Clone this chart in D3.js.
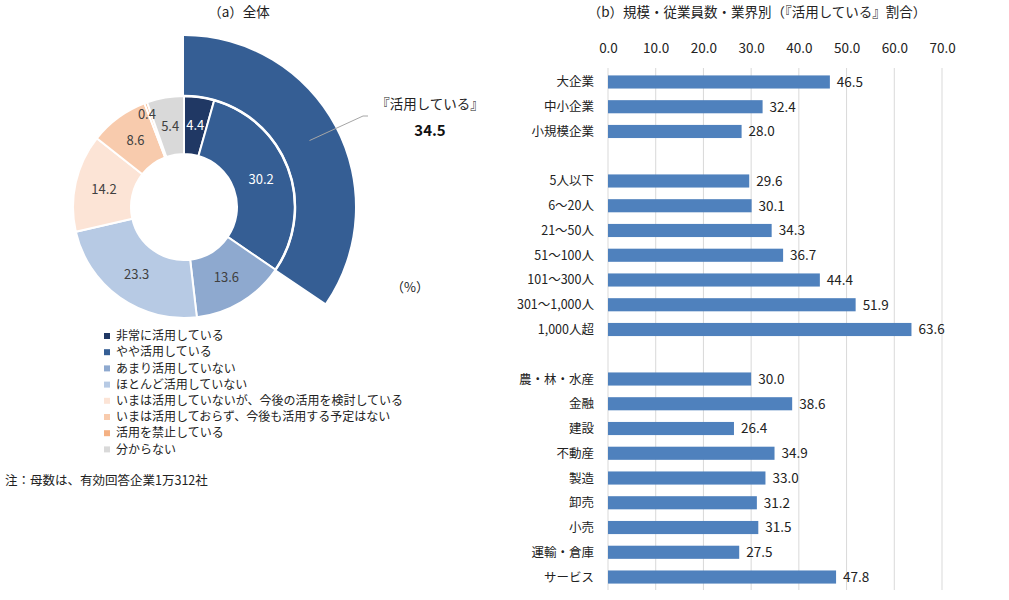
<!DOCTYPE html>
<html>
<head>
<meta charset="utf-8">
<script src="https://cdnjs.cloudflare.com/ajax/libs/d3/7.8.5/d3.min.js"></script>
<style>
  body { margin: 0; background: #fff; }
  text { font-family: "Noto Sans CJK JP", "Noto Sans", sans-serif; }
</style>
</head>
<body>
<div id="chart"></div>
<script>
// ---- data ----
var donutLabels = ["非常に活用している", "やや活用している", "あまり活用していない", "ほとんど活用していない",
                   "いまは活用していないが、今後の活用を検討している", "いまは活用しておらず、今後も活用する予定はない",
                   "活用を禁止している", "分からない"];
var donutValues = [4.4, 30.2, 13.6, 23.3, 14.2, 8.6, 0.4, 5.4];
var donutColors = ["#203864", "#355E94", "#8EA9CF", "#B7CAE4", "#FCE4D6", "#F8CBAD", "#F4B183", "#D9D9D9"];
var usingTotal = 34.5;

var sizeCats = ["大企業", "中小企業", "小規模企業"];
var sizeVals = [46.5, 32.4, 28.0];
var empCats = ["5人以下", "6～20人", "21～50人", "51～100人", "101～300人", "301～1,000人", "1,000人超"];
var empVals = [29.6, 30.1, 34.3, 36.7, 44.4, 51.9, 63.6];
var indCats = ["農・林・水産", "金融", "建設", "不動産", "製造", "卸売", "小売", "運輸・倉庫", "サービス"];
var indVals = [30.0, 38.6, 26.4, 34.9, 33.0, 31.2, 31.5, 27.5, 47.8];
var xTicks = [0, 10, 20, 30, 40, 50, 60, 70];

var w = 1009, h = 600;
var svg = d3.select("#chart").append("svg")
  .attr("width", w).attr("height", h);

// ---- (a) donut ----
var cx = 184, cy = 207;
var rIn = 53, rOut = 111, rBig = 171;

svg.append("text").attr("x", 239).attr("y", 17)
  .attr("text-anchor", "middle").attr("font-size", 13.5).attr("fill", "#222")
  .text("（a）全体");

var pie = d3.pie().sort(null).value(function(d) { return d; });
var arcs = pie(donutValues);
var arc = d3.arc().innerRadius(rIn).outerRadius(rOut);
var g = svg.append("g").attr("transform", "translate(" + cx + "," + cy + ")");

// big outer sector for 『活用している』
var bigEnd = usingTotal / 100 * 2 * Math.PI;
g.append("path")
  .attr("d", d3.arc()({ innerRadius: rOut, outerRadius: rBig, startAngle: 0, endAngle: bigEnd }))
  .attr("fill", donutColors[1]);

g.selectAll("path.slice")
  .data(arcs).enter().append("path")
  .attr("class", "slice")
  .attr("d", arc)
  .attr("fill", function(d, i) { return donutColors[i]; })
  .attr("stroke", "#fff").attr("stroke-width", 2);

// white arc between inner donut and big sector
g.append("path")
  .attr("d", d3.arc()({ innerRadius: rOut, outerRadius: rOut, startAngle: 0, endAngle: bigEnd }))
  .attr("stroke", "#fff").attr("stroke-width", 2.5).attr("fill", "none");

g.selectAll("text.val")
  .data(arcs).enter().append("text")
  .attr("class", "val")
  .attr("transform", function(d, i) {
    var r = i === 6 ? 99 : (rIn + rOut) / 2;
    var a = (d.startAngle + d.endAngle) / 2;
    var dx = i === 6 ? -3 : 0;
    return "translate(" + (Math.sin(a) * r + dx) + "," + (-Math.cos(a) * r) + ")";
  })
  .attr("text-anchor", "middle").attr("dy", "0.35em")
  .attr("font-size", 13)
  .attr("fill", function(d, i) { return i <= 1 ? "#fff" : "#404040"; })
  .text(function(d) { return d.data.toFixed(1); });

// leader line + label
var la = bigEnd * 0.5, lr = 142;
var lx = cx + Math.sin(la) * lr, ly = cy - Math.cos(la) * lr;
svg.append("polyline")
  .attr("points", lx + "," + ly + " 363,116 368,116")
  .attr("fill", "none").attr("stroke", "#A6A6A6").attr("stroke-width", 1);
svg.append("text").attr("x", 430).attr("y", 109)
  .attr("text-anchor", "middle").attr("font-size", 13.5).attr("fill", "#222")
  .text("『活用している』");
svg.append("text").attr("x", 430).attr("y", 136)
  .attr("text-anchor", "middle").attr("font-size", 15).attr("font-weight", "bold").attr("fill", "#111")
  .text(usingTotal.toFixed(1));

svg.append("text").attr("x", 410).attr("y", 292)
  .attr("text-anchor", "middle").attr("font-size", 13).attr("fill", "#222")
  .text("（%）");

// legend
var lg = svg.append("g").attr("transform", "translate(104,336)");
var legendItems = lg.selectAll("g").data(donutLabels).enter().append("g")
  .attr("transform", function(d, i) { return "translate(0," + (i * 16.2) + ")"; });
legendItems.append("rect").attr("x", 0).attr("y", -3).attr("width", 6).attr("height", 6)
  .attr("fill", function(d, i) { return donutColors[i]; });
legendItems.append("text").attr("x", 12).attr("dy", "0.35em")
  .attr("font-size", 12).attr("fill", "#222")
  .text(function(d) { return d; });

svg.append("text").attr("x", 5).attr("y", 485)
  .attr("font-size", 12.5).attr("fill", "#222")
  .text("注：母数は、有効回答企業1万312社");

// ---- (b) bar chart ----
svg.append("text").attr("x", 757).attr("y", 17)
  .attr("text-anchor", "middle").attr("font-size", 13.5).attr("fill", "#222")
  .text("（b）規模・従業員数・業界別（『活用している』割合）");

var rows = [];
sizeCats.forEach(function(c, i) { rows.push({ key: c, value: sizeVals[i] }); });
rows.push({ key: "_gap1", value: null });
empCats.forEach(function(c, i) { rows.push({ key: c, value: empVals[i] }); });
rows.push({ key: "_gap2", value: null });
indCats.forEach(function(c, i) { rows.push({ key: c, value: indVals[i] }); });

var xScale = d3.scaleLinear().domain([0, 70]).range([608, 942]);
var yScale = d3.scaleBand()
  .domain(rows.map(function(d) { return d.key; }))
  .range([69.6, 589.4])
  .paddingInner(0.47).paddingOuter(0.235);

// gridlines
svg.append("g").selectAll("line")
  .data(xTicks).enter().append("line")
  .attr("x1", function(d) { return xScale(d); })
  .attr("x2", function(d) { return xScale(d); })
  .attr("y1", 68).attr("y2", 590)
  .attr("stroke", "#D9D9D9").attr("stroke-width", 1);

// top axis
var x_axis = d3.axisTop(xScale).tickValues(xTicks)
  .tickFormat(function(d) { return d.toFixed(1); }).tickSize(0).tickPadding(0);
var ax = svg.append("g").attr("transform", "translate(0,53)").call(x_axis);
ax.select(".domain").remove();
ax.selectAll("text").attr("font-size", 13.5).attr("fill", "#222")
  .style("font-family", "'Noto Sans CJK JP', sans-serif");

var data = rows.filter(function(d) { return d.value !== null; });

svg.selectAll("rect.bar")
  .data(data).enter().append("rect")
  .attr("class", "bar")
  .attr("fill", "#4F81BD")
  .attr("x", xScale(0))
  .attr("y", function(d) { return yScale(d.key); })
  .attr("width", function(d) { return xScale(d.value) - xScale(0); })
  .attr("height", yScale.bandwidth());

svg.selectAll("text.barval")
  .data(data).enter().append("text")
  .attr("class", "barval")
  .attr("x", function(d) { return xScale(d.value) + 7; })
  .attr("y", function(d) { return yScale(d.key) + yScale.bandwidth() / 2; })
  .attr("dy", "0.36em").attr("font-size", 13.5).attr("fill", "#222")
  .text(function(d) { return d.value.toFixed(1); });

svg.selectAll("text.cat")
  .data(data).enter().append("text")
  .attr("class", "cat")
  .attr("x", 594)
  .attr("y", function(d) { return yScale(d.key) + yScale.bandwidth() / 2; })
  .attr("dy", "0.36em").attr("text-anchor", "end").attr("font-size", 12.5).attr("fill", "#222")
  .text(function(d) { return d.key; });
</script>
</body>
</html>
